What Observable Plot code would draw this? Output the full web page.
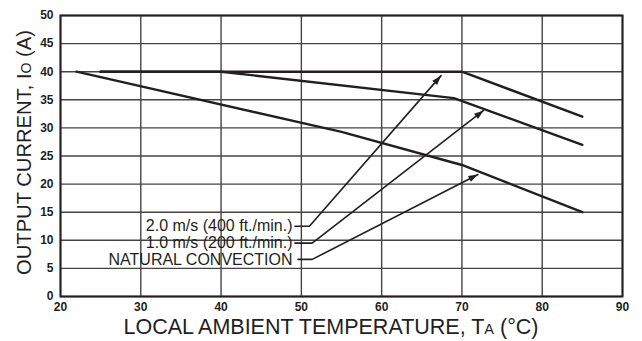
<!DOCTYPE html>
<html>
<head>
<meta charset="utf-8">
<script src="https://cdn.jsdelivr.net/npm/d3@7"></script>
<script src="https://cdn.jsdelivr.net/npm/@observablehq/plot@0.6"></script>
<style>
  html, body { margin: 0; padding: 0; background: #fff; }
  #chart svg { display: block; }
</style>
</head>
<body>
<div id="chart"></div>
<script>
// ---- data ----
const xTicks = [20, 30, 40, 50, 60, 70, 80, 90];
const yTicks = [0, 5, 10, 15, 20, 25, 30, 35, 40, 45, 50];

const seriesNames = ["2.0 m/s (400 ft./min.)", "1.0 m/s (200 ft./min.)", "NATURAL CONVECTION"];

const temp2 = [25, 70, 85];
const current2 = [40, 40, 32];
const temp1 = [25, 40, 69, 85];
const current1 = [40, 40, 35.3, 27];
const tempN = [22, 55, 70, 85];
const currentN = [40, 29.3, 23.4, 15];

// annotation anchors (data units)
const labelTemp = 48.9;
const labelCurrent = [12.5, 9.5, 6.6];
const leaderTemp = [49.2, 49.2, 49.6];
const elbowTemp = [51.0, 51.35, 51.35];
const tipTemp = [67.4, 72.7, 72.0];
const tipCurrent = [39.3, 33.1, 21.7];

const xTitle = ["LOCAL AMBIENT TEMPERATURE, T", "A", " (°C)"];
const yTitle = ["OUTPUT CURRENT, I", "O", " (A)"];

// ---- tables built from the arrays ----
const curves = [
  ...temp2.map((t, i) => ({s: seriesNames[0], t, c: current2[i]})),
  ...temp1.map((t, i) => ({s: seriesNames[1], t, c: current1[i]})),
  ...tempN.map((t, i) => ({s: seriesNames[2], t, c: currentN[i]}))
];
const leaders = seriesNames.flatMap((s, i) => [
  {s, t: leaderTemp[i], c: labelCurrent[i]},
  {s, t: elbowTemp[i], c: labelCurrent[i]},
  {s, t: tipTemp[i], c: tipCurrent[i]}
]);
const labels = seriesNames.map((s, i) => ({s, t: labelTemp, c: labelCurrent[i]}));

const ink = "#231f20";

const plot = Plot.plot({
  width: 642,
  height: 341,
  marginLeft: 60,
  marginRight: 20,
  marginTop: 15,
  marginBottom: 45,
  style: {fontFamily: "'Liberation Sans', Arial, sans-serif", color: ink, background: "#fff"},
  x: {domain: [20, 90]},
  y: {domain: [0, 50]},
  marks: [
    Plot.ruleX(xTicks, {stroke: "#444", strokeWidth: 1.4}),
    Plot.ruleY(yTicks, {stroke: "#444", strokeWidth: 1.4}),
    Plot.frame({stroke: ink, strokeWidth: 2}),
    Plot.axisX({ticks: xTicks, tickSize: 0, tickPadding: 6, fontSize: 12, fontWeight: "bold", label: null}),
    Plot.axisY({ticks: yTicks, tickSize: 0, tickPadding: 7, fontSize: 12, fontWeight: "bold", label: null}),
    Plot.line(curves, {x: "t", y: "c", z: "s", stroke: ink, strokeWidth: 2.4}),
    Plot.line(leaders, {x: "t", y: "c", z: "s", stroke: ink, strokeWidth: 1.6, markerEnd: "arrow"}),
    Plot.text(labels, {x: "t", y: "c", text: "s", textAnchor: "end", fontSize: 16, fill: ink})
  ]
});

// filled triangular arrow heads
d3.select(plot).selectAll("marker")
  .attr("viewBox", "-10 -5 10 10")
  .attr("fill", ink)
  .attr("stroke", "none")
  .selectAll("path")
  .attr("d", "M-9,-3L0,0L-9,3Z");

// axis titles with small subscripts
const sx = plot.scale("x"), sy = plot.scale("y");
const svg = d3.select(plot);
const xt = svg.append("text")
  .attr("x", (sx.apply(20) + sx.apply(90)) / 2 - 10)
  .attr("y", 334)
  .attr("text-anchor", "middle")
  .attr("font-size", 21.5)
  .attr("fill", ink);
xTitle.forEach((s, i) => xt.append("tspan").attr("font-size", i === 1 ? 14.5 : null).text(s));

const cy = (sy.apply(0) + sy.apply(50)) / 2 - 3;
const yt = svg.append("text")
  .attr("transform", `translate(31,${cy}) rotate(-90)`)
  .attr("text-anchor", "middle")
  .attr("font-size", 20.2)
  .attr("fill", ink);
yTitle.forEach((s, i) => yt.append("tspan").attr("font-size", i === 1 ? 14 : null).text(s));

document.getElementById("chart").appendChild(plot);
</script>
</body>
</html>
